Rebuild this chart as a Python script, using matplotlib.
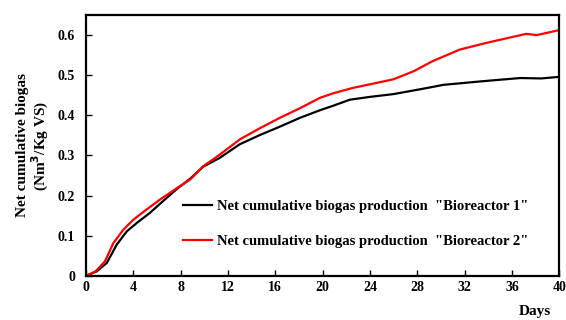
import matplotlib
matplotlib.use("Agg")
import matplotlib.pyplot as plt

# cumulative biogas yield, Nm3/kg VS, read per day
days_r1 = [0, 0.9, 1.75, 2.6, 3.45, 4.3, 5.4, 6.5, 7.7, 8.8, 9.9, 11.3, 13, 14.7,
           16.4, 18.1, 19.8, 20.9, 22.3, 24, 26, 28.8, 30.2, 33.5, 36.7, 38.5, 40]
biogas_r1 = [0, 0.011, 0.032, 0.078, 0.111, 0.132, 0.157, 0.186, 0.217, 0.242, 0.272,
             0.294, 0.328, 0.351, 0.372, 0.394, 0.413, 0.424, 0.439, 0.446, 0.453,
             0.468, 0.476, 0.485, 0.493, 0.492, 0.496]

days_r2 = [0, 0.8, 1.6, 2.3, 3.15, 4, 5.1, 6.25, 7.7, 8.8, 9.9, 11.3, 13, 14.7,
           16.4, 18.1, 19.8, 20.9, 22.5, 24.9, 26, 27.7, 29.3, 31.6, 33.9, 37.2,
           38.1, 40]
biogas_r2 = [0, 0.011, 0.036, 0.081, 0.115, 0.14, 0.165, 0.19, 0.219, 0.24, 0.273,
             0.302, 0.34, 0.368, 0.394, 0.418, 0.444, 0.455, 0.468, 0.483, 0.49,
             0.51, 0.535, 0.564, 0.581, 0.603, 0.6, 0.6125]

x_ticks = list(range(0, 41, 4))
y_ticks = [0, 0.1, 0.2, 0.3, 0.4, 0.5, 0.6]
y_tick_labels = ["0", "0.1", "0.2", "0.3", "0.4", "0.5", "0.6"]

plt.rcParams["font.family"] = ["Liberation Serif", "DejaVu Serif"]
plt.rcParams["font.weight"] = "bold"

fig = plt.figure(figsize=(5.66, 3.2), dpi=100)
ax = fig.add_axes([0.152, 0.138, 0.836, 0.815])

ax.plot(days_r1, biogas_r1, color="black", lw=1.6, solid_joinstyle="round",
        label='Net cumulative biogas production  "Bioreactor 1"')
ax.plot(days_r2, biogas_r2, color="red", lw=1.6, solid_joinstyle="round",
        label='Net cumulative biogas production  "Bioreactor 2"')

ax.set_xlim(0, 40)
ax.set_ylim(0, 0.65)
ax.set_xticks(x_ticks)
ax.set_yticks(y_ticks)
ax.set_yticklabels(y_tick_labels)
ax.tick_params(axis="x", direction="in", length=4, width=1, pad=4, labelsize=10)
ax.tick_params(axis="y", direction="in", length=4, width=1, pad=8, labelsize=10)
for s in ax.spines.values():
    s.set_linewidth(1.6)

ax.set_ylabel("Net cumulative biogas\n(Nm$^{3}$/Kg VS)", fontsize=11,
              fontweight="bold", labelpad=5, linespacing=1.05)
fig.text(0.945, 0.015, "Days", fontsize=11, fontweight="bold", ha="center")

ax.legend(loc="upper left", bbox_to_anchor=(0.205, 0.29), frameon=False,
          fontsize=10.5, handlelength=2.0, handletextpad=0.3, labelspacing=1.45,
          borderpad=0, borderaxespad=0)

fig.savefig("out.png", dpi=100)
